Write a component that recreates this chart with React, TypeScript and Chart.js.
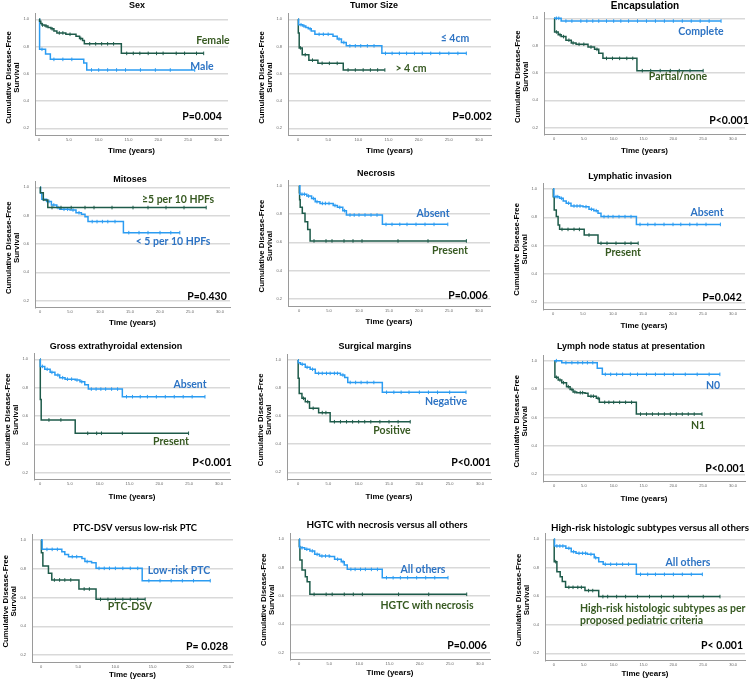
import React, { useEffect, useRef } from 'react';
import { Chart, registerables } from 'chart.js';

Chart.register(...registerables);

// ---------- colours ----------
const BLUE = '#2b9cf2';
const GREEN = '#1e5b4a';
const BLUE_TEXT = '#2e74c4';
const GREEN_TEXT = '#375a22';
const GRID = '#d9d9d9';
const AXIS = '#9a9a9a';

// ---------- axes ----------
const Y_MIN = 0.15;
const Y_MAX = 1.04;
const yTicks = [0.2, 0.4, 0.6, 0.8, 1.0];
const xTicks30 = [0, 5, 10, 15, 20, 25, 30];
const xTicks25 = [0, 5, 10, 15, 20, 25];

// ---------- data: [time (years), survival after event] and censor times ----------
const sexFemale = [[0.1, 0.985], [0.3, 0.97], [0.5, 0.958], [1.0, 0.95], [1.5, 0.94], [2.0, 0.93], [2.5, 0.915], [3.0, 0.9], [4.5, 0.89], [6.2, 0.875], [6.8, 0.86], [7.3, 0.845], [7.6, 0.82], [13.8, 0.75]];
const sexFemaleCensor = [0.6, 1.2, 2.2, 3.4, 4.0, 5.2, 7.0, 8.5, 9.5, 10.5, 11.5, 12.5, 14.7, 15.8, 16.9, 18.3, 19.7, 20.8, 23.0, 24.4, 26.4, 27.6];
const sexMale = [[0.1, 0.78], [1.1, 0.745], [1.9, 0.706], [7.5, 0.68], [8.0, 0.628]];
const sexMaleCensor = [0.5, 2.5, 4.0, 5.5, 8.8, 10.0, 11.5, 13.0, 14.5, 17.0, 19.5, 22.0, 26.1];

const sizeSmall = [[0.1, 0.96], [0.8, 0.95], [1.3, 0.94], [1.7, 0.93], [2.2, 0.915], [2.8, 0.89], [5.8, 0.875], [6.5, 0.855], [7.2, 0.83], [8.0, 0.805], [13.9, 0.75]];
const sizeSmallCensor = [0.5, 1.0, 2.0, 3.5, 4.2, 5.0, 6.8, 7.6, 8.6, 9.5, 10.4, 11.5, 12.6, 14.5, 15.6, 16.8, 18.0, 19.3, 20.6, 22.0, 23.5, 25.0, 26.5, 27.9];
const sizeLarge = [[0.05, 0.9], [0.2, 0.79], [0.7, 0.74], [1.8, 0.7], [3.3, 0.677], [7.5, 0.628]];
const sizeLargeCensor = [0.4, 1.2, 2.4, 4.0, 5.2, 6.5, 8.3, 9.5, 10.8, 12.0, 13.2, 14.4];

const encComplete = [[1.2, 0.98]];
const encCompleteCensor = [0.4, 0.8, 2.0, 3.0, 4.5, 5.5, 6.5, 7.5, 8.8, 10.0, 11.2, 12.5, 14.0, 15.5, 17.0, 18.5, 20.0, 21.5, 23.0, 24.5, 26.0, 28.0];
const encPartial = [[0.1, 0.9], [0.7, 0.88], [1.2, 0.866], [2.0, 0.84], [2.9, 0.82], [3.7, 0.81], [5.7, 0.79], [6.8, 0.773], [7.5, 0.745], [8.2, 0.707], [13.9, 0.617]];
const encPartialCensor = [0.4, 1.0, 1.6, 2.5, 3.2, 4.2, 5.0, 6.2, 7.2, 8.8, 9.8, 11.0, 12.2, 13.2, 14.8, 16.2, 17.8, 19.5, 21.0, 22.8, 25.0];

const mitHigh = [[0.05, 0.962], [0.55, 0.91], [1.3, 0.857]];
const mitHighCensor = [2.0, 3.5, 5.2, 7.5, 9.0, 12.0, 15.5, 18.0, 21.0, 24.0, 27.7];
const mitLow = [[0.1, 0.958], [0.3, 0.915], [1.1, 0.9], [1.9, 0.875], [2.8, 0.857], [3.3, 0.845], [5.0, 0.84], [6.0, 0.82], [6.9, 0.81], [7.5, 0.793], [8.0, 0.758], [13.9, 0.68]];
const mitLowCensor = [0.6, 1.5, 2.3, 3.0, 4.0, 4.6, 5.5, 6.5, 8.7, 9.5, 10.4, 11.3, 12.5, 14.8, 16.5, 18.0, 20.0, 21.8, 23.3];

const necAbsent = [[0.15, 0.94], [1.3, 0.927], [2.1, 0.91], [2.7, 0.887], [3.5, 0.875], [5.7, 0.86], [6.4, 0.847], [7.3, 0.824], [7.9, 0.793], [13.9, 0.727]];
const necAbsentCensor = [0.5, 0.9, 1.6, 2.4, 3.0, 3.9, 4.4, 5.0, 6.0, 6.8, 7.6, 8.5, 9.2, 10.0, 11.0, 12.0, 13.0, 14.5, 15.5, 16.8, 18.0, 19.5, 21.0, 22.5, 24.8];
const necPresent = [[0.05, 0.95], [0.1, 0.9], [0.2, 0.847], [0.55, 0.805], [1.0, 0.746], [1.45, 0.69], [1.85, 0.61]];
const necPresentCensor = [2.5, 4.5, 5.5, 7.5, 9.0, 10.5, 16.5, 21.5, 27.9];

const lymAbsent = [[0.15, 0.946], [1.1, 0.934], [1.7, 0.915], [2.2, 0.9], [3.0, 0.88], [5.0, 0.875], [6.0, 0.857], [6.8, 0.847], [7.5, 0.828], [8.0, 0.805], [13.9, 0.75]];
const lymAbsentCensor = [0.5, 0.8, 1.4, 2.6, 3.5, 4.0, 4.5, 5.5, 6.4, 7.2, 8.5, 9.2, 10.0, 11.0, 12.0, 13.0, 14.5, 15.8, 17.0, 18.5, 20.0, 21.3, 22.8, 24.0, 25.5, 27.9];
const lymPresent = [[0.05, 0.946], [0.2, 0.852], [0.55, 0.805], [0.85, 0.746], [1.1, 0.715], [5.2, 0.675], [7.5, 0.617]];
const lymPresentCensor = [1.5, 2.5, 3.5, 4.4, 6.0, 8.0, 9.0, 10.5, 12.0, 13.0, 14.2];

const eteAbsent = [[0.05, 0.95], [0.8, 0.93], [1.7, 0.908], [2.5, 0.889], [3.3, 0.87], [4.2, 0.86], [5.9, 0.854], [6.7, 0.842], [7.5, 0.82], [8.1, 0.79], [13.8, 0.736]];
const eteAbsentCensor = [0.4, 1.2, 2.0, 3.0, 3.8, 4.6, 5.3, 6.2, 7.0, 8.6, 9.4, 10.2, 11.0, 12.0, 13.0, 14.5, 15.5, 16.8, 18.0, 19.5, 21.0, 22.5, 24.0, 25.5, 27.65];
const etePresent = [[0.05, 0.716], [0.2, 0.572], [5.9, 0.478]];
const etePresentCensor = [1.5, 3.5, 8.0, 9.5, 10.3, 13.8, 24.9];

const marNegative = [[0.05, 0.98], [0.4, 0.97], [1.2, 0.948], [2.0, 0.934], [2.85, 0.905], [7.0, 0.893], [7.7, 0.876], [8.2, 0.84], [13.9, 0.77]];
const marNegativeCensor = [0.7, 1.5, 2.4, 3.4, 4.0, 4.7, 5.3, 6.0, 6.5, 7.4, 8.6, 9.5, 10.4, 11.4, 12.5, 14.6, 15.8, 17.0, 18.3, 20.0, 21.5, 23.0, 25.0, 27.7];
const marPositive = [[0.03, 0.87], [0.2, 0.762], [0.65, 0.727], [1.2, 0.703], [1.9, 0.656], [3.4, 0.625], [5.3, 0.56]];
const marPositiveCensor = [0.9, 1.6, 2.5, 4.0, 4.6, 6.0, 7.0, 8.0, 9.0, 10.0, 11.0, 12.0, 13.5, 15.0, 16.5, 18.5];

const nodeN0 = [[1.3, 0.986], [7.25, 0.946], [8.1, 0.904]];
const nodeN0Censor = [0.4, 2.0, 3.0, 4.0, 4.8, 5.6, 6.5, 8.6, 9.5, 10.5, 11.5, 12.8, 14.0, 15.5, 17.0, 18.5, 20.0, 22.0, 24.0, 26.0, 27.8];
const nodeN1 = [[0.15, 0.883], [0.7, 0.864], [1.3, 0.845], [2.1, 0.817], [2.7, 0.798], [3.2, 0.78], [3.8, 0.775], [5.2, 0.77], [5.7, 0.75], [7.1, 0.735], [7.6, 0.707], [13.8, 0.624]];
const nodeN1Censor = [0.4, 1.0, 1.6, 2.4, 3.0, 3.5, 4.4, 4.8, 6.2, 6.6, 7.4, 8.5, 9.2, 10.0, 11.0, 12.0, 13.0, 14.5, 15.5, 16.5, 17.5, 18.5, 19.5, 20.5, 21.5, 22.5, 23.5, 24.8];

const dsvLowRisk = [[0.15, 0.935], [2.8, 0.919], [3.2, 0.9], [3.7, 0.884], [5.5, 0.872], [5.9, 0.85], [6.8, 0.842], [7.4, 0.803], [13.6, 0.717]];
const dsvLowRiskCensor = [0.8, 1.5, 2.2, 4.2, 4.8, 6.2, 7.8, 8.5, 9.2, 10.0, 11.0, 12.0, 13.0, 14.5, 16.0, 17.5, 19.0, 20.5, 22.75];
const dsvPtc = [[0.05, 0.912], [0.25, 0.819], [1.0, 0.768], [1.45, 0.722], [5.1, 0.659], [7.4, 0.587]];
const dsvPtcCensor = [1.8, 2.5, 3.2, 4.0, 5.8, 6.5, 8.0, 9.0, 10.0, 11.0, 12.0, 13.0, 14.0];

const hgtcOthers = [[0.1, 0.94], [0.95, 0.93], [1.8, 0.918], [2.6, 0.894], [3.4, 0.882], [5.1, 0.878], [5.9, 0.859], [7.0, 0.842], [7.5, 0.819], [8.0, 0.788], [13.8, 0.729]];
const hgtcOthersCensor = [0.5, 1.3, 2.2, 3.0, 3.8, 4.4, 5.0, 6.4, 7.3, 8.6, 9.3, 10.2, 11.0, 12.0, 13.0, 14.5, 15.6, 16.8, 18.0, 19.5, 21.0, 22.5, 24.7];
const hgtcNecrosis = [[0.05, 0.95], [0.15, 0.854], [0.5, 0.784], [1.05, 0.736], [1.35, 0.7], [1.8, 0.612]];
const hgtcNecrosisCensor = [2.5, 4.5, 5.5, 7.5, 9.0, 10.5, 16.5, 21.5, 27.8];

const hrOthers = [[0.1, 0.953], [2.0, 0.937], [2.9, 0.913], [3.7, 0.902], [5.6, 0.895], [6.75, 0.871], [7.5, 0.843], [8.25, 0.825], [13.8, 0.754]];
const hrOthersCensor = [0.5, 1.0, 1.5, 2.5, 3.3, 4.2, 4.8, 5.3, 6.2, 7.0, 8.6, 9.5, 10.5, 11.5, 12.5, 14.5, 15.7, 17.0, 18.5, 20.0, 21.5, 23.0, 24.85];
const hrHigh = [[0.05, 0.843], [0.5, 0.773], [1.05, 0.738], [1.4, 0.703], [1.95, 0.663], [5.2, 0.64], [7.5, 0.598]];
const hrHighCensor = [0.3, 2.5, 3.2, 4.0, 4.6, 5.8, 6.5, 8.2, 9.0, 10.5, 12.0, 14.0, 16.0, 18.0, 20.0, 22.5, 25.0, 27.8];

// ---------- fonts ----------
const TITLE_FONT = 'bold 9px "Liberation Sans", Arial, sans-serif';
const TITLE_FONT_L = 'bold 10px "Liberation Sans", Arial, sans-serif';
const TITLE_FONT2 = 'bold 10px Lato, "Liberation Sans", sans-serif';
const LABEL_FONT = 'bold 10.5px Lato, "Liberation Sans", sans-serif';
const YTITLE_FONT = 'bold 7.8px "Liberation Sans", Arial, sans-serif';
const XTITLE_FONT = 'bold 8px "Liberation Sans", Arial, sans-serif';

type Curve = { steps: number[][]; censor: number[]; color: string };
type Label = { text: string; x: number; y: number; color: string; align?: CanvasTextAlign };
type Panel = {
  title: string; tx: number; ty: number; tfont: string; tmax?: number;
  cell: number[]; left: number; right: number; x0: number; xEndPx: number; xEndVal: number;
  y1: number; y02: number; xTicks: number[]; timeDy: number;
  curves: Curve[]; labels: Label[];
};

const B = (steps: number[][], censor: number[]): Curve => ({ steps, censor, color: BLUE });
const G = (steps: number[][], censor: number[]): Curve => ({ steps, censor, color: GREEN });
const L = (text: string, x: number, y: number, color: string, align?: CanvasTextAlign): Label => ({ text, x, y, color, align });

const panels: Panel[] = [
  { title: 'Sex', tx: 137, ty: 6, tfont: TITLE_FONT, cell: [0, 0, 250, 170], left: 35, right: 228, x0: 39, xEndPx: 218, xEndVal: 30, y1: 19.3, y02: 128.3, xTicks: xTicks30, timeDy: 16,
    curves: [G(sexFemale, sexFemaleCensor), B(sexMale, sexMaleCensor)],
    labels: [L('Female', 213, 41, GREEN_TEXT), L('Male', 202, 67, BLUE_TEXT), L('P=0.004', 202, 117, '#000')] },
  { title: 'Tumor Size', tx: 374, ty: 6, tfont: TITLE_FONT, cell: [250, 0, 250, 170], left: 288, right: 491, x0: 298, xEndPx: 479, xEndVal: 30, y1: 19.3, y02: 128.3, xTicks: xTicks30, timeDy: 16,
    curves: [B(sizeSmall, sizeSmallCensor), G(sizeLarge, sizeLargeCensor)],
    labels: [L('≤ 4cm', 455, 39, BLUE_TEXT), L('> 4 cm', 411, 69, GREEN_TEXT), L('P=0.002', 472, 117, '#000')] },
  { title: 'Encapsulation', tx: 645, ty: 6, tfont: TITLE_FONT_L, tmax: 78, cell: [500, 0, 250, 170], left: 544, right: 745, x0: 554, xEndPx: 733, xEndVal: 30, y1: 18.3, y02: 127.7, xTicks: xTicks30, timeDy: 16,
    curves: [B(encComplete, encCompleteCensor), G(encPartial, encPartialCensor)],
    labels: [L('Complete', 701, 32, BLUE_TEXT), L('Partial/none', 678, 77, GREEN_TEXT), L('P<0.001', 729, 121, '#000')] },
  { title: 'Mitoses', tx: 130, ty: 180, tfont: TITLE_FONT, cell: [0, 170, 250, 170], left: 35, right: 230, x0: 40, xEndPx: 220, xEndVal: 30, y1: 187.3, y02: 300.7, xTicks: xTicks30, timeDy: 15,
    curves: [G(mitHigh, mitHighCensor), B(mitLow, mitLowCensor)],
    labels: [L('≥5 per 10 HPFs', 178, 200, GREEN_TEXT), L('< 5 per 10 HPFs', 173, 242, BLUE_TEXT), L('P=0.430', 207, 297, '#000')] },
  { title: 'Necrosis', tx: 376, ty: 174, tfont: TITLE_FONT, cell: [250, 170, 250, 170], left: 288, right: 490, x0: 299, xEndPx: 479, xEndVal: 30, y1: 185.7, y02: 299, xTicks: xTicks30, timeDy: 16,
    curves: [B(necAbsent, necAbsentCensor), G(necPresent, necPresentCensor)],
    labels: [L('Absent', 433, 214, BLUE_TEXT), L('Present', 450, 251, GREEN_TEXT), L('P=0.006', 468, 296, '#000')] },
  { title: 'Lymphatic invasion', tx: 630, ty: 177, tfont: TITLE_FONT, cell: [500, 170, 250, 170], left: 543, right: 745, x0: 553, xEndPx: 733, xEndVal: 30, y1: 189, y02: 302.3, xTicks: xTicks30, timeDy: 16,
    curves: [B(lymAbsent, lymAbsentCensor), G(lymPresent, lymPresentCensor)],
    labels: [L('Absent', 707, 213, BLUE_TEXT), L('Present', 623, 253, GREEN_TEXT), L('P=0.042', 722, 298, '#000')] },
  { title: 'Gross extrathyroidal extension', tx: 116, ty: 347, tfont: TITLE_FONT, cell: [0, 340, 250, 170], left: 34, right: 230, x0: 40, xEndPx: 219, xEndVal: 30, y1: 359.3, y02: 472.7, xTicks: xTicks30, timeDy: 17,
    curves: [B(eteAbsent, eteAbsentCensor), G(etePresent, etePresentCensor)],
    labels: [L('Absent', 190, 385, BLUE_TEXT), L('Present', 171, 442, GREEN_TEXT), L('P<0.001', 212, 463, '#000')] },
  { title: 'Surgical margins', tx: 375, ty: 347, tfont: TITLE_FONT, cell: [250, 340, 250, 170], left: 287, right: 491, x0: 298, xEndPx: 480, xEndVal: 30, y1: 360, y02: 472.3, xTicks: xTicks30, timeDy: 17,
    curves: [B(marNegative, marNegativeCensor), G(marPositive, marPositiveCensor)],
    labels: [L('Negative', 446, 402, BLUE_TEXT), L('Positive', 392, 431, GREEN_TEXT), L('P<0.001', 471, 463, '#000')] },
  { title: 'Lymph node status at presentation', tx: 631, ty: 347, tfont: TITLE_FONT, tmax: 148, cell: [500, 340, 250, 170], left: 543, right: 745, x0: 554, xEndPx: 733, xEndVal: 30, y1: 360.7, y02: 474.3, xTicks: xTicks30, timeDy: 17,
    curves: [B(nodeN0, nodeN0Censor), G(nodeN1, nodeN1Censor)],
    labels: [L('N0', 713, 386, BLUE_TEXT), L('N1', 698, 426, GREEN_TEXT), L('P<0.001', 725, 469, '#000')] },
  { title: 'PTC-DSV versus low-risk PTC', tx: 135, ty: 528, tfont: TITLE_FONT2, tmax: 124, cell: [0, 510, 250, 171], left: 32, right: 233, x0: 41, xEndPx: 227, xEndVal: 25, y1: 540, y02: 655, xTicks: xTicks25, timeDy: 13,
    curves: [B(dsvLowRisk, dsvLowRiskCensor), G(dsvPtc, dsvPtcCensor)],
    labels: [L('Low-risk PTC', 179, 571, BLUE_TEXT), L('PTC-DSV', 130, 607, GREEN_TEXT), L('P= 0.028', 207, 647, '#000')] },
  { title: 'HGTC with necrosis versus all others', tx: 387, ty: 525, tfont: TITLE_FONT2, tmax: 161, cell: [250, 510, 250, 171], left: 290, right: 490, x0: 299, xEndPx: 480, xEndVal: 30, y1: 539.3, y02: 652.7, xTicks: xTicks30, timeDy: 13,
    curves: [B(hgtcOthers, hgtcOthersCensor), G(hgtcNecrosis, hgtcNecrosisCensor)],
    labels: [L('All others', 423, 570, BLUE_TEXT), L('HGTC with necrosis', 427, 606, GREEN_TEXT), L('P=0.006', 467, 646, '#000')] },
  { title: 'High-risk histologic subtypes versus all others', tx: 650, ty: 528, tfont: TITLE_FONT2, tmax: 198, cell: [500, 510, 250, 171], left: 545, right: 747, x0: 554, xEndPx: 735, xEndVal: 30, y1: 539.3, y02: 653.3, xTicks: xTicks30, timeDy: 13,
    curves: [B(hrOthers, hrOthersCensor), G(hrHigh, hrHighCensor)],
    labels: [L('All others', 688, 563, BLUE_TEXT), L('High-risk histologic subtypes as per', 580, 609, GREEN_TEXT, 'left'), L('proposed pediatric criteria', 580, 621, GREEN_TEXT, 'left'), L('P< 0.001', 722, 646, '#000')] },
];

function survAt(steps: number[][], t: number): number {
  let s = 1;
  for (const [tt, v] of steps) if (tt <= t) s = v;
  return s;
}

function KMPanel({ p }: { p: Panel }) {
  const ref = useRef<HTMLCanvasElement>(null);
  const [cx, cy, cw, ch] = p.cell;
  useEffect(() => {
    if (!ref.current) return;
    const ppy = (p.xEndPx - p.x0) / p.xEndVal;
    const xMin = -(p.x0 - p.left) / ppy;
    const xMax = (p.right - p.x0) / ppy;
    const unit = (p.y02 - p.y1) / 0.8;
    const top = p.y1 - (Y_MAX - 1) * unit;
    const bottom = p.y02 + (0.2 - Y_MIN) * unit;

    const datasets: any[] = [];
    for (const c of p.curves) {
      const end = c.censor[c.censor.length - 1];
      const last = c.steps[c.steps.length - 1][1];
      datasets.push({
        data: [{ x: 0, y: 1 }, ...c.steps.map(([x, y]) => ({ x, y })), { x: end, y: last }],
        stepped: true, borderColor: c.color, borderWidth: 1.5, pointRadius: 0, fill: false,
      });
      datasets.push({
        data: c.censor.map((t) => ({ x: t, y: survAt(c.steps, t) })),
        showLine: false, pointStyle: 'line', rotation: 90, pointRadius: 1.8,
        pointBorderWidth: 1, borderColor: c.color, backgroundColor: c.color,
      });
    }

    const textPlugin = {
      id: 'kmText',
      afterDraw(chart: any) {
        const ctx: CanvasRenderingContext2D = chart.ctx;
        const a = chart.chartArea;
        ctx.save();
        ctx.textBaseline = 'middle';
        ctx.textAlign = 'center';
        ctx.fillStyle = '#000';
        ctx.font = p.tfont;
        if (p.tmax) ctx.fillText(p.title, p.tx - cx, p.ty - cy, p.tmax);
        else ctx.fillText(p.title, p.tx - cx, p.ty - cy);
        // x title
        ctx.font = XTITLE_FONT;
        ctx.fillText('Time (years)', (a.left + a.right) / 2, a.bottom + p.timeDy);
        // y title
        ctx.font = YTITLE_FONT;
        const ym = (a.top + a.bottom) / 2 + 3;
        ctx.save();
        ctx.translate(a.left - 26.5, ym);
        ctx.rotate(-Math.PI / 2);
        ctx.fillText('Cumulative Disease-Free', 0, 0);
        ctx.restore();
        ctx.save();
        ctx.translate(a.left - 18.5, ym);
        ctx.rotate(-Math.PI / 2);
        ctx.fillText('Survival', 0, 0);
        ctx.restore();
        // labels
        ctx.font = LABEL_FONT;
        for (const l of p.labels) {
          ctx.fillStyle = l.color;
          ctx.textAlign = l.align || 'center';
          ctx.fillText(l.text, l.x - cx, l.y - cy);
        }
        ctx.restore();
      },
    };

    const chart = new Chart(ref.current, {
      type: 'line',
      data: { datasets },
      options: {
        responsive: false,
        animation: false,
        events: [],
        layout: { padding: { left: 0, top: top - cy, right: cx + cw - p.right, bottom: 0 } },
        plugins: { legend: { display: false }, tooltip: { enabled: false }, title: { display: false } },
        scales: {
          x: {
            type: 'linear', min: xMin, max: xMax, bounds: 'data',
            afterFit: (s: any) => { s.height = cy + ch - bottom; },
            afterBuildTicks: (s: any) => { s.ticks = p.xTicks.map((v) => ({ value: v })); },
            grid: { display: false, drawTicks: false },
            border: { display: true, color: AXIS, width: 1 },
            ticks: {
              font: { size: 4, family: 'Liberation Sans' }, color: '#666', padding: 2, maxRotation: 0, autoSkip: false,
              callback: (v: any) => (Number(v) === 0 ? '0' : Number(v).toFixed(1)),
            },
          },
          y: {
            type: 'linear', min: Y_MIN, max: Y_MAX, bounds: 'data',
            afterFit: (s: any) => { s.width = p.left - cx; },
            afterBuildTicks: (s: any) => { s.ticks = yTicks.map((v) => ({ value: v })); },
            grid: { color: GRID, lineWidth: 1.5, drawTicks: false },
            border: { display: true, color: AXIS, width: 1 },
            ticks: {
              font: { size: 4, family: 'Liberation Sans' }, color: '#666', padding: 6,
              callback: (v: any) => Number(v).toFixed(1),
            },
          },
        },
      } as any,
      plugins: [textPlugin],
    });
    return () => chart.destroy();
  }, []);
  return (
    <canvas
      ref={ref}
      width={cw}
      height={ch}
      style={{ position: 'absolute', left: cx, top: cy, width: cw, height: ch }}
    />
  );
}

export default function App() {
  return (
    <div style={{ position: 'fixed', left: 0, top: 0, width: 750, height: 681, background: '#fff', overflow: 'hidden' }}>
      {panels.map((p, i) => (
        <KMPanel key={i} p={p} />
      ))}
    </div>
  );
}
